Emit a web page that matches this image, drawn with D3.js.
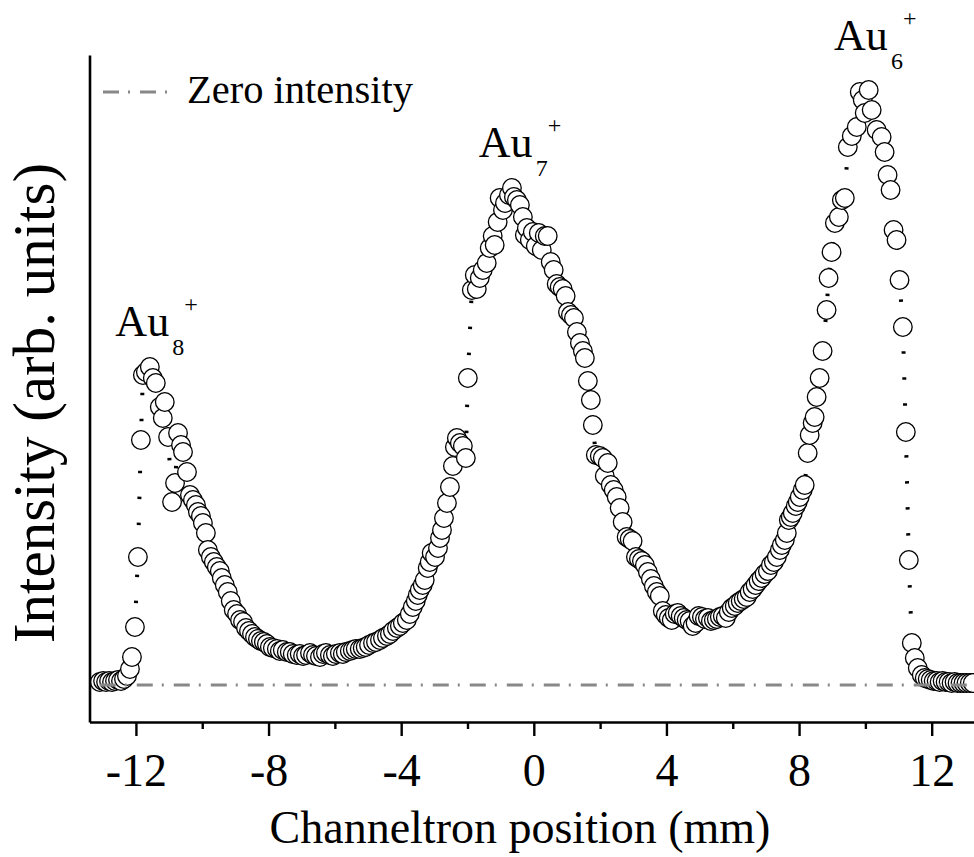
<!DOCTYPE html>
<html>
<head>
<meta charset="utf-8">
<script src="https://cdn.jsdelivr.net/npm/d3@7"></script>
<style>
    body { margin: 0; background: #fff; }
</style>
</head>
<body>
<div id="chart"></div>
<script>
// Channeltron scan: position (mm) and measured intensity (arb. units, 0 = zero intensity)
const positions = [-13.09,-12.99,-12.90,-12.81,-12.72,-12.63,-12.54,-12.45,-12.36,-12.27,-12.18,-12.12,-12.03,-11.94,-11.85,-11.79,-11.70,-11.58,-11.49,-11.40,
    -11.28,-11.19,-11.13,-11.03,-10.91,-10.82,-10.73,-10.64,-10.58,-10.46,-10.37,-10.28,-10.19,-10.13,-10.04,-9.98,-9.89,-9.83,-9.74,-9.65,
    -9.56,-9.47,-9.41,-9.32,-9.23,-9.14,-9.05,-8.95,-8.86,-8.77,-8.68,-8.59,-8.50,-8.41,-8.32,-8.23,-8.14,-8.05,-7.96,-7.87,
    -7.75,-7.66,-7.57,-7.45,-7.36,-7.27,-7.15,-7.06,-6.96,-6.87,-6.75,-6.66,-6.57,-6.45,-6.36,-6.27,-6.15,-6.06,-5.97,-5.85,
    -5.76,-5.67,-5.55,-5.46,-5.37,-5.25,-5.16,-5.07,-4.97,-4.85,-4.76,-4.64,-4.55,-4.43,-4.34,-4.25,-4.13,-4.04,-3.95,-3.83,
    -3.74,-3.65,-3.56,-3.50,-3.44,-3.35,-3.29,-3.20,-3.14,-3.08,-2.98,-2.89,-2.83,-2.77,-2.71,-2.62,-2.53,-2.44,-2.38,-2.32,
    -2.23,-2.14,-2.05,-1.99,-1.87,-1.78,-1.72,-1.63,-1.54,-1.42,-1.33,-1.24,-1.18,-1.09,-1.03,-0.93,-0.87,-0.75,-0.66,-0.60,
    -0.51,-0.42,-0.33,-0.27,-0.21,-0.12,-0.03,0.06,0.15,0.24,0.33,0.42,0.51,0.60,0.69,0.78,0.87,0.96,1.03,1.12,
    1.21,1.30,1.39,1.48,1.54,1.63,1.72,1.78,1.87,1.99,2.08,2.14,2.23,2.32,2.41,2.50,2.59,2.68,2.80,2.89,
    2.98,3.08,3.17,3.26,3.35,3.44,3.53,3.62,3.71,3.80,3.89,3.98,4.07,4.16,4.25,4.34,4.43,4.52,4.61,4.70,
    4.79,4.88,4.97,5.07,5.16,5.25,5.34,5.43,5.52,5.61,5.70,5.79,5.88,5.97,6.06,6.15,6.24,6.33,6.42,6.51,
    6.60,6.69,6.78,6.87,6.96,7.06,7.15,7.24,7.33,7.42,7.48,7.57,7.63,7.69,7.75,7.81,7.90,7.96,8.02,8.11,
    8.17,8.26,8.32,8.41,8.47,8.53,8.62,8.71,8.83,8.89,8.98,9.08,9.20,9.29,9.38,9.47,9.59,9.74,9.83,9.92,
    9.98,10.10,10.19,10.34,10.49,10.58,10.67,10.76,10.85,10.94,11.03,11.13,11.22,11.31,11.40,11.49,11.58,11.70,11.79,11.88,
    11.97,12.06,12.15,12.24,12.33,12.42,12.51,12.60,12.69,12.78,12.87,12.96,13.05,13.15,13.24];

const intensity = [3,4,3,4,3,4,5,4,6,9,16,28,58,128,245,310,313,318,307,302,
    278,267,283,248,183,202,252,240,233,213,190,185,180,173,169,162,152,135,128,123,
    118,114,107,100,93,84,75,71,65,63,57,54,51,48,46,44,43,41,38,37,
    36,34,35,33,33,31,30,31,29,30,32,30,29,28,31,32,30,29,31,32,
    31,33,34,35,36,36,37,38,40,42,43,45,47,49,51,54,57,59,62,65,
    71,78,84,90,95,100,105,117,123,132,128,137,147,155,167,182,198,219,238,247,
    242,239,227,307,395,410,396,407,415,422,437,449,440,463,487,475,482,490,497,488,
    485,480,468,450,457,445,453,439,452,435,449,449,423,415,401,398,396,389,373,370,
    367,353,342,334,327,304,285,260,230,229,227,209,222,200,195,188,177,163,148,146,
    144,128,126,124,120,113,106,99,93,89,74,70,67,65,71,72,69,67,65,64,
    59,62,69,68,66,67,64,65,66,68,69,67,73,77,79,82,84,86,88,93,
    96,100,104,107,111,114,120,123,128,135,140,145,152,165,168,172,179,183,188,195,
    200,232,250,262,268,288,307,334,375,407,433,462,468,485,487,538,549,558,593,585,
    572,595,575,555,548,533,510,495,455,445,405,358,253,125,42,27,17,10,7,6,
    5,4,4,3,4,3,3,2,3,2,2,2,2,2,2];

// Axis ticks
const majorTicks = [-12, -8, -4, 0, 4, 8, 12];
const minorTicks = [-10, -6, -2, 2, 6, 10];

// Peak labels: cluster size and position (mm, intensity) of the label
const peakSizes = ['8', '7', '6'];
const peakLabelX = [-12.62, -1.66, 9.05];
const peakLabelY = [349, 528, 635];

const FONT = "'Liberation Serif', 'Times New Roman', Times, serif";
const width = 974;
const height = 857;

const data = positions.map((p, i) => ({ x: p, y: intensity[i] }));

const x = d3.scaleLinear().domain([-13.4, 13.3]).range([89.5, 974.8]);
const y = d3.scaleLinear().domain([-37, 630]).range([722, 55]);

const svg = d3.select("#chart").append("svg")
    .attr("width", width)
    .attr("height", height)
    .attr("font-family", FONT);

// Dotted line joining the points (drawn under the circles)
svg.append("path")
    .datum(data)
    .attr("d", d3.line().x(d => x(d.x)).y(d => y(d.y)))
    .style("fill", "none")
    .style("stroke", "#000")
    .style("stroke-width", 4)
    .style("stroke-dasharray", "2.5,23.5");

// Open circles for each measurement
svg.append("g")
    .selectAll("circle")
    .data(data)
    .enter().append("circle")
    .attr("cx", d => x(d.x))
    .attr("cy", d => y(d.y))
    .attr("r", 9.3)
    .style("fill", "#fff")
    .style("stroke", "#000")
    .style("stroke-width", 1.3);

// Zero intensity reference line
const dashDot = "16,9,2,10";
svg.append("line")
    .attr("x1", x(positions[0]))
    .attr("x2", width)
    .attr("y1", y(0))
    .attr("y2", y(0))
    .style("stroke", "#888")
    .style("stroke-width", 3)
    .style("stroke-dasharray", dashDot);

// Bottom axis: labelled major ticks, short minor ticks
const xAxis = svg.append("g")
    .attr("transform", `translate(0,${y.range()[0]})`)
    .call(d3.axisBottom(x).tickValues(majorTicks).tickSize(14).tickSizeOuter(0)
        .tickFormat(d => d < 0 ? "-" + Math.abs(d) : d));
xAxis.attr("font-family", FONT);
xAxis.select(".domain").style("stroke-width", 2.6);
xAxis.selectAll(".tick line").style("stroke-width", 2.4);
xAxis.selectAll(".tick text")
    .attr("y", 64)
    .attr("dy", 0)
    .style("font-family", FONT)
    .style("font-size", "46px");

const xMinor = svg.append("g")
    .attr("transform", `translate(0,${y.range()[0]})`)
    .call(d3.axisBottom(x).tickValues(minorTicks).tickSize(7).tickFormat(""));
xMinor.select(".domain").remove();
xMinor.selectAll(".tick line").style("stroke-width", 2.4);

// Left axis: plain line, no ticks
const yAxis = svg.append("g")
    .attr("transform", `translate(${x.range()[0]},0)`)
    .call(d3.axisLeft(y).tickValues([]).tickSizeOuter(0));
yAxis.select(".domain").style("stroke-width", 2.6);

// Axis titles
svg.append("text")
    .attr("x", 520)
    .attr("y", 843)
    .attr("text-anchor", "middle")
    .style("font-family", FONT)
    .style("font-size", "46px")
    .text("Channeltron position (mm)");

svg.append("text")
    .attr("transform", "translate(54,403) rotate(-90)")
    .attr("text-anchor", "middle")
    .style("font-family", FONT)
    .style("font-size", "59px")
    .text("Intensity (arb. units)");

// Legend
svg.append("line")
    .attr("x1", 103).attr("x2", 170)
    .attr("y1", 92).attr("y2", 92)
    .style("stroke", "#888")
    .style("stroke-width", 3)
    .style("stroke-dasharray", dashDot);

svg.append("text")
    .attr("x", 187)
    .attr("y", 103)
    .style("font-family", FONT)
    .style("font-size", "40.5px")
    .text("Zero intensity");

// Peak labels Au_n^+
peakSizes.forEach((n, i) => {
    const lx = x(peakLabelX[i]);
    const ly = y(peakLabelY[i]);
    const g = svg.append("g")
        .attr("transform", `translate(${lx},${ly})`)
        .style("font-family", FONT);
    g.append("text").style("font-size", "44px").text("Au");
    g.append("text").attr("x", 57).attr("y", 19).style("font-size", "24px").text(n);
    g.append("text").attr("x", 69).attr("y", -24).style("font-size", "24px").text("+");
});
</script>
</body>
</html>
